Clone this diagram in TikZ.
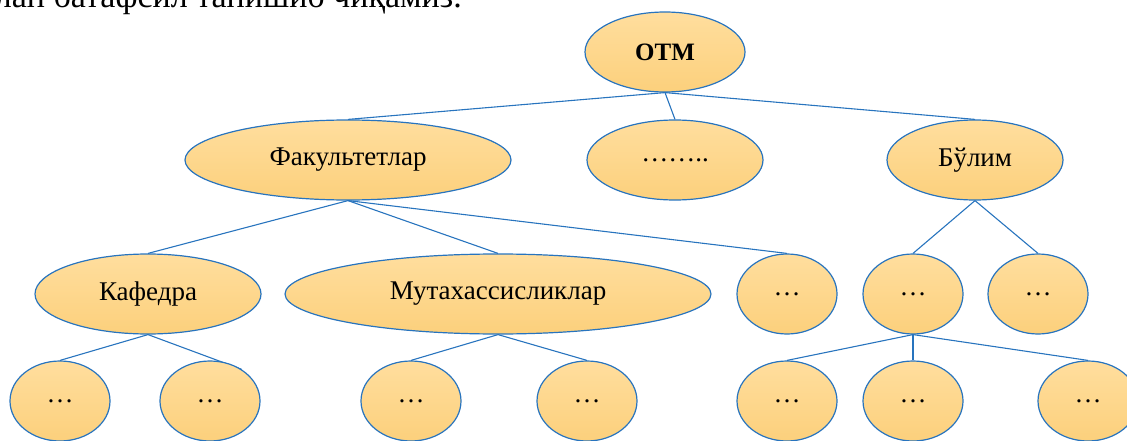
\documentclass[tikz,border=0pt]{standalone}
\usepackage{fontspec}
\setmainfont{Liberation Serif}
\usetikzlibrary{shapes.geometric,backgrounds}
\definecolor{edgeblue}{HTML}{2874BE}
\definecolor{goldtop}{HTML}{FFDE9E}
\definecolor{goldbot}{HTML}{FCD07C}
\tikzset{
  oval/.style={ellipse, draw=edgeblue, line width=1.2pt, inner sep=0pt,
    top color=goldtop, bottom color=goldbot, minimum height=80pt,
    font=\fontsize{27}{32}\selectfont},
  small/.style={oval, minimum width=100pt},
  link/.style={draw=edgeblue, line width=1.1pt}
}
\begin{document}
\begin{tikzpicture}[x=1pt,y=1pt]
\useasboundingbox (0,0) rectangle (1127,440);
\clip (0,0) rectangle (1127,440);

% closing line of the preceding paragraph
\node[anchor=base east, inner sep=0pt, font=\fontsize{34}{40}\selectfont] (para) at (462,432) {билан батафсил танишиб чиқамиз.};

% level 1
\node[oval, minimum width=160pt, font=\fontsize{25}{30}\selectfont\bfseries] (otm) at (665,388) {OTM};
% level 2
\node[oval, minimum width=326pt] (fak) at (348,280) {Факультетлар};
\node[oval, minimum width=176pt] (mid) at (675,280) {……..};
\node[oval, minimum width=176pt] (bul) at (975,280) {Бўлим};
% level 3
\node[oval, minimum width=226pt] (kaf) at (148,146) {Кафедра};
\node[oval, minimum width=426pt] (mut) at (498,146) {Мутахассисликлар};
\node[small] (fx) at (787,146) {…};
\node[small] (ba) at (913,146) {…};
\node[small] (bb) at (1038,146) {…};
% level 4
\node[small] (ka) at (60,39) {…};
\node[small] (kb) at (210,39) {…};
\node[small] (ma) at (411,39) {…};
\node[small] (mb) at (587,39) {…};
\node[small] (ca) at (787,39) {…};
\node[small] (cb) at (913,39) {…};
\node[small] (cc) at (1088,39) {…};

\begin{scope}[on background layer]
  \path[link] (otm.south) -- (fak.north);
  \path[link] (otm.south) -- (mid.north);
  \path[link] (otm.south) -- (bul.north);
  \path[link] (fak.south) -- (kaf.north);
  \path[link] (fak.south) -- (mut.north);
  \path[link] (fak.south) -- (fx.north);
  \path[link] (bul.south) -- (ba.north);
  \path[link] (bul.south) -- (bb.north);
  \path[link] (kaf.south) -- (ka.north);
  \path[link] (kaf.south) -- (kb.45);
  \path[link] (mut.south) -- (ma.north);
  \path[link] (mut.south) -- (mb.north);
  \path[link] (ba.south) -- (ca.north);
  \path[link] (ba.south) -- (cb.north);
  \path[link] (ba.south) -- (cc.north);
\end{scope}
\end{tikzpicture}
\end{document}
